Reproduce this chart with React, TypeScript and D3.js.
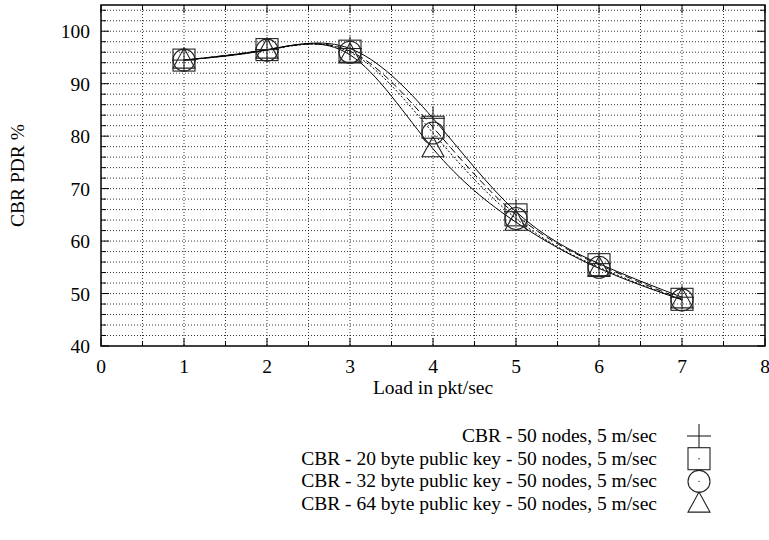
import React from "react";
import * as d3 from "d3";

// loads (pkt/sec) and CBR PDR % for each run
const loads = [1, 2, 3, 4, 5, 6, 7];
const cbrPlain = [94.5, 96.5, 96.7, 83.4, 65.6, 55.7, 49.3];
const cbrKey20 = [94.5, 96.5, 96.2, 81.7, 65.0, 55.5, 48.9];
const cbrKey32 = [94.5, 96.4, 96.0, 80.6, 64.3, 55.0, 48.8];
const cbrKey64 = [94.5, 96.4, 95.5, 77.6, 63.6, 54.8, 48.8];

const seriesNames = [
  "CBR - 50 nodes, 5 m/sec",
  "CBR - 20 byte public key - 50 nodes, 5 m/sec",
  "CBR - 32 byte public key - 50 nodes, 5 m/sec",
  "CBR - 64 byte public key - 50 nodes, 5 m/sec",
];
const xTicks = [0, 1, 2, 3, 4, 5, 6, 7, 8];
const yTicks = [40, 50, 60, 70, 80, 90, 100];

const W = 769;
const H = 540;
const left = 101;
const right = 765;
const top = 5;
const bottom = 346;
const font = "Liberation Serif, Times New Roman, Times, DejaVu Serif, serif";
const fs = 19.5;

const x = d3.scaleLinear().domain([0, 8]).range([left, right]);
const y = d3.scaleLinear().domain([40, 105]).range([bottom, top]);

const series = [
  { name: seriesNames[0], values: cbrPlain, dash: "none", mark: "plus" },
  { name: seriesNames[1], values: cbrKey20, dash: "7,4", mark: "box" },
  { name: seriesNames[2], values: cbrKey32, dash: "2,2", mark: "circle" },
  { name: seriesNames[3], values: cbrKey64, dash: "none", mark: "tri" },
];

function Marker({ kind, cx, cy }: { kind: string; cx: number; cy: number }) {
  const s = 11;
  const st = { fill: "none", stroke: "#222", strokeWidth: 1.1 };
  if (kind === "plus")
    return (
      <g {...st}>
        <line x1={cx - s - 1} x2={cx + s + 1} y1={cy} y2={cy} />
        <line x1={cx} x2={cx} y1={cy - s - 1} y2={cy + s + 1} />
      </g>
    );
  if (kind === "box")
    return (
      <g>
        <rect x={cx - s} y={cy - s} width={2 * s} height={2 * s} {...st} />
        <circle cx={cx} cy={cy} r={0.7} fill="#222" />
      </g>
    );
  if (kind === "circle")
    return (
      <g>
        <circle cx={cx} cy={cy} r={s} {...st} />
        <circle cx={cx} cy={cy} r={0.7} fill="#222" />
      </g>
    );
  return (
    <path
      d={`M${cx},${cy - 12}L${cx + 11},${cy + 8}L${cx - 11},${cy + 8}Z`}
      {...st}
    />
  );
}

export default function App() {
  const line = d3
    .line<number>()
    .x((_, i) => x(loads[i]))
    .y((d) => y(d))
    .curve(d3.curveNatural);

  const xGrid = d3.range(0.5, 8, 0.5);
  const yGrid = d3.range(42, 105, 2);
  const textStyle = { fontFamily: font, fontSize: fs, fill: "#000" };

  return (
    <div style={{ position: "absolute", left: 0, top: 0 }}>
      <svg width={W} height={H} style={{ display: "block", background: "#fff" }}>
        <defs>
          <clipPath id="plot">
            <rect x={left} y={top} width={right - left} height={bottom - top} />
          </clipPath>
        </defs>
        {/* grid */}
        <g stroke="#000" strokeWidth={0.8} strokeDasharray="1,2">
          {xGrid.map((v) => (
            <line key={"gx" + v} x1={x(v)} x2={x(v)} y1={top} y2={bottom} />
          ))}
          {yGrid.map((v) => (
            <line key={"gy" + v} x1={left} x2={right} y1={y(v)} y2={y(v)} />
          ))}
        </g>
        {/* ticks, mirrored */}
        <g stroke="#000" strokeWidth={1}>
          {d3.range(0, 8.01, 0.5).map((v) => {
            const len = Number.isInteger(v) ? 8 : 5;
            return (
              <g key={"tx" + v}>
                <line x1={x(v)} x2={x(v)} y1={bottom} y2={bottom - len} />
                <line x1={x(v)} x2={x(v)} y1={top} y2={top + len} />
              </g>
            );
          })}
          {d3.range(40, 105.01, 2).map((v) => {
            const len = v % 10 === 0 ? 8 : 5;
            return (
              <g key={"ty" + v}>
                <line x1={left} x2={left + len} y1={y(v)} y2={y(v)} />
                <line x1={right} x2={right - len} y1={y(v)} y2={y(v)} />
              </g>
            );
          })}
        </g>
        <rect
          x={left}
          y={top}
          width={right - left}
          height={bottom - top}
          fill="none"
          stroke="#000"
          strokeWidth={1.5}
        />
        {/* tick labels */}
        <g style={textStyle}>
          {xTicks.map((v) => (
            <text key={"lx" + v} x={x(v)} y={bottom + 27} textAnchor="middle">
              {v}
            </text>
          ))}
          {yTicks.map((v) => (
            <text key={"ly" + v} x={left - 11} y={y(v) + 7} textAnchor="end">
              {v}
            </text>
          ))}
          <text x={(left + right) / 2} y={394} textAnchor="middle">
            Load in pkt/sec
          </text>
          <text
            transform={`translate(24,${(top + bottom) / 2}) rotate(-90)`}
            textAnchor="middle"
          >
            CBR PDR %
          </text>
        </g>
        {/* curves */}
        <g clipPath="url(#plot)" fill="none" stroke="#000" strokeWidth={1}>
          {series.map((s) => (
            <path
              key={s.name}
              d={line(s.values) || ""}
              strokeDasharray={s.dash}
            />
          ))}
        </g>
        {/* points */}
        {series.map((s) => (
          <g key={"m" + s.name}>
            {s.values.map((v, i) => (
              <Marker key={i} kind={s.mark} cx={x(loads[i])} cy={y(v)} />
            ))}
          </g>
        ))}
        {/* legend */}
        <g style={textStyle}>
          {series.map((s, i) => {
            const ly = 436 + i * 22.7;
            return (
              <g key={"lg" + s.name}>
                <text x={657} y={ly + 6} textAnchor="end">
                  {s.name}
                </text>
                <Marker kind={s.mark} cx={699} cy={ly} />
              </g>
            );
          })}
        </g>
      </svg>
    </div>
  );
}
